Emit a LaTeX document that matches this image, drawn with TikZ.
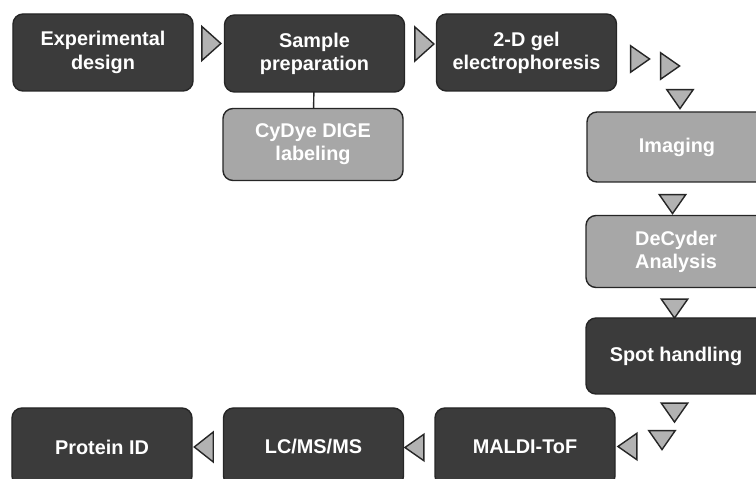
\documentclass[tikz,border=0pt]{standalone}
\usepackage{fontspec}
\setmainfont{Liberation Sans}
\usepackage{xcolor}
\usepackage{tikz}
\usepackage{tkz-graph}
\usetikzlibrary{arrows,shapes}

\definecolor{darkfill}{HTML}{3B3B3B}
\definecolor{lightfill}{HTML}{A7A7A7}
\definecolor{trifill}{HTML}{B2B2B2}
\definecolor{edgegray}{HTML}{262626}

\tikzset{
  VertexStyle/.style={draw=edgegray, line width=0.8pt, inner sep=0pt, align=center,
    text=white, font=\bfseries\fontsize{11.3}{13.2}\selectfont},
  EdgeStyle/.style={draw=edgegray, line width=0.8pt},
  darkbox/.style={rectangle, rounded corners=0.2cm, fill=darkfill,
    minimum width=3.6cm, minimum height=1.54cm},
  lightbox/.style={rectangle, rounded corners=0.2cm, fill=lightfill,
    minimum width=3.6cm, minimum height=1.44cm},
  tri/.style={isosceles triangle, isosceles triangle stretches, fill=trifill,
    line width=0.7pt, minimum height=0.38cm, minimum width=0.53cm},
  bigtri/.style={tri, minimum width=0.68cm},
}

\begin{document}
\begin{tikzpicture}[x=0.2cm, y=0.2cm]
        \useasboundingbox (0,0) rectangle (75.6,-47.9);
        % boxes
        \Vertex[x=10.3, y=-5.25, style={darkbox}, L={Experimental\\design}]{exp}
        \Vertex[x=31.45, y=-5.35, style={darkbox}, L={Sample\\preparation}]{sprep}
        \Vertex[x=52.65, y=-5.25, style={darkbox}, L={2-D gel\\electrophoresis}]{gel}
        \Vertex[x=31.3, y=-14.45, style={lightbox}, L={CyDye DIGE\\labeling}]{cydye}
        \Vertex[x=67.7, y=-14.7, style={lightbox, minimum height=1.4cm}, L={Imaging}]{imaging}
        \Vertex[x=67.6, y=-25.15, style={lightbox}, L={DeCyder\\Analysis}]{decyder}
        \Vertex[x=67.6, y=-35.6, style={darkbox, minimum height=1.52cm}, L={Spot handling}]{spot}
        \Vertex[x=52.5, y=-44.7, style={darkbox, minimum height=1.56cm}, L={MALDI-ToF}]{maldi}
        \Vertex[x=31.35, y=-44.7, style={darkbox, minimum height=1.56cm}, L={LC/MS/MS}]{lcms}
        \Vertex[x=10.2, y=-44.7, style={darkbox, minimum height=1.56cm}, L={Protein ID}]{protein}
        \Edge(sprep)(cydye)
        % triangles
        \Vertex[x=20.95, y=-4.35, NoLabel, style={bigtri}]{t1}
        \Vertex[x=42.25, y=-4.4, NoLabel, style={bigtri}]{t2}
        \Vertex[x=63.75, y=-5.9, NoLabel, style={tri}]{t3}
        \Vertex[x=66.75, y=-6.6, NoLabel, style={tri}]{t4}
        \Vertex[x=68, y=-9.65, NoLabel, style={tri, rotate=-90}]{t5}
        \Vertex[x=67.25, y=-20.15, NoLabel, style={tri, rotate=-90}]{t6}
        \Vertex[x=67.45, y=-30.6, NoLabel, style={tri, rotate=-90}]{t7}
        \Vertex[x=67.45, y=-41, NoLabel, style={tri, rotate=-90}]{t8}
        \Vertex[x=66.2, y=-43.75, NoLabel, style={tri, rotate=-90}]{t9}
        \Vertex[x=63, y=-44.65, NoLabel, style={tri, rotate=180}]{t10}
        \Vertex[x=41.7, y=-44.75, NoLabel, style={tri, rotate=180}]{t11}
        \Vertex[x=20.6, y=-44.7, NoLabel, style={tri, rotate=180, minimum width=0.6cm}]{t12}
    \end{tikzpicture}
\end{document}
